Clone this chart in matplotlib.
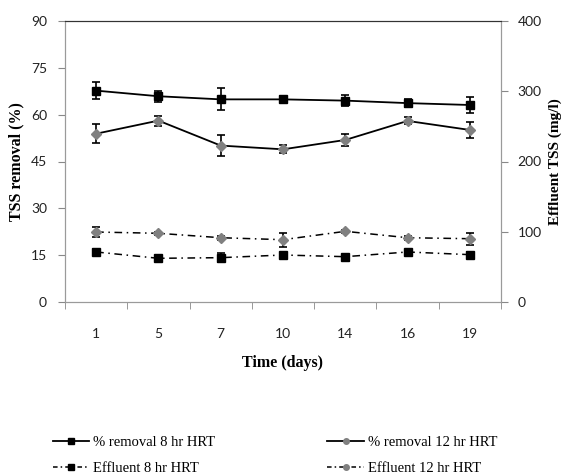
import matplotlib
matplotlib.use("Agg")
import matplotlib.pyplot as plt
import numpy as np

days = ["1", "5", "7", "10", "14", "16", "19"]
rem8 = [67.7, 65.9, 64.9, 64.9, 64.5, 63.7, 63.1]
rem8_err = [2.8, 1.8, 3.5, 1.0, 1.8, 1.2, 2.6]
rem12 = [53.9, 58.1, 50.1, 48.9, 51.9, 58.0, 55.1]
rem12_err = [3.0, 1.6, 3.4, 1.3, 1.8, 1.1, 2.7]
eff8 = [71.2, 62.2, 63.1, 66.9, 64.5, 71.2, 67.4]
eff8_err = [4.5, 2.0, 6.5, 2.0, 2.0, 2.0, 4.0]
eff12 = [99.6, 97.8, 91.5, 88.7, 100.6, 91.5, 90.1]
eff12_err = [6.9, 2.0, 3.0, 10.0, 2.0, 3.0, 8.5]

serif = "Liberation Serif"
sans = "Lato"

fig = plt.figure(figsize=(5.64, 4.75), dpi=100)
W, H = 564, 475
ax = fig.add_axes([65 / W, 1 - 302 / H, 436 / W, 281 / H])
ax2 = ax.twinx()

x = np.arange(len(days))
gray = "#808080"
ek = dict(capsize=3, elinewidth=1.2, capthick=1.2, ecolor="black")

ax.errorbar(x, rem8, yerr=rem8_err, color="black", lw=1.3, marker="s", ms=6,
            mfc="black", mec="black", **ek)
ax.errorbar(x, rem12, yerr=rem12_err, color="black", lw=1.3, marker="D", ms=5,
            mfc=gray, mec=gray, **ek)
ax2.errorbar(x, eff8, yerr=eff8_err, color="black", lw=1.1, ls=(0, (5, 3, 1, 3)),
             marker="s", ms=6, mfc="black", mec="black", **ek)
ax2.errorbar(x, eff12, yerr=eff12_err, color="black", lw=1.1, ls=(0, (5, 3, 1, 3)),
             marker="D", ms=5, mfc=gray, mec=gray, **ek)

ax.set_xlim(-0.5, len(days) - 0.5)
ax.set_ylim(0, 90)
ax.set_yticks(np.arange(0, 91, 15))
ax2.set_ylim(0, 400)
ax2.set_yticks(np.arange(0, 401, 100))

ax.set_xticks(x)
ax.set_xticklabels(days)
ax.set_xticks(np.arange(-0.5, len(days), 1.0), minor=True)
ax.tick_params(axis="x", which="major", length=0, pad=19)
ax.tick_params(axis="x", which="minor", length=5, color="#888888", direction="out")
ax.tick_params(axis="y", length=5, color="#888888", direction="out", pad=8)
ax2.tick_params(axis="y", length=5, color="#888888", direction="out", pad=7)

for a in (ax, ax2):
    for lab in a.get_xticklabels() + a.get_yticklabels():
        lab.set_fontfamily(sans)
        lab.set_fontsize(10)
        lab.set_color("#222222")
    for s in ("left", "right", "bottom"):
        a.spines[s].set_color("#9a9a9a")
    a.spines["top"].set_color("#333333")

ax.set_ylabel("TSS removal (%)", fontfamily=serif, fontweight="bold", fontsize=11.5)
ax.yaxis.set_label_coords(-(65 - 16) / 436, 0.5)
ax.yaxis.label.set_va("center")
ax2.set_ylabel("Effluent TSS (mg/l)", fontfamily=serif, fontweight="bold", fontsize=11,
               rotation=90)
ax2.yaxis.set_label_coords((555 - 65) / 436, 0.5)
ax2.yaxis.label.set_va("center")
ax.set_xlabel("Time (days)", fontfamily=serif, fontweight="bold", fontsize=11.5)
ax.xaxis.set_label_coords(0.5, -(363 - 302) / 281)
ax.xaxis.label.set_va("center")

from matplotlib.lines import Line2D
h1 = Line2D([], [], color="black", lw=1.3, marker="s", ms=5, mfc="black", mec="black")
h2 = Line2D([], [], color="black", lw=1.3, marker="o", ms=4, mfc=gray, mec=gray)
h3 = Line2D([], [], color="black", lw=1.1, ls=(0, (3, 2, 1, 2)), marker="s", ms=5, mfc="black", mec="black")
h4 = Line2D([], [], color="black", lw=1.1, ls=(0, (3, 2, 1, 2)), marker="o", ms=4, mfc=gray, mec=gray)
fig.legend([h1, h3, h2, h4],
           ["% removal 8 hr HRT", "Effluent 8 hr HRT", "% removal 12 hr HRT", "Effluent 12 hr HRT"],
           ncol=2, loc="upper left", bbox_to_anchor=(53 / W, 1 - 436 / H),
           frameon=False, prop={"family": serif, "size": 10.5}, borderpad=0, borderaxespad=0,
           handlelength=2.5, handletextpad=0.25, columnspacing=7.7, labelspacing=0.85)

fig.savefig("out.png", dpi=100)
